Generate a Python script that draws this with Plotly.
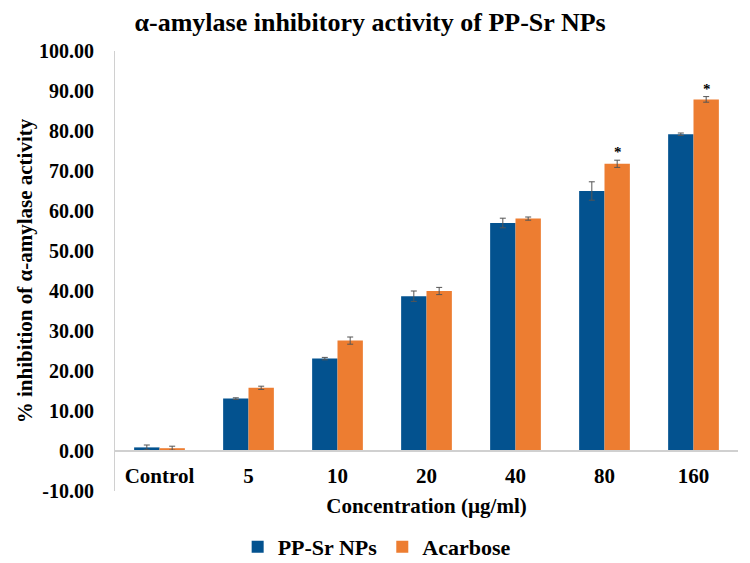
import plotly.graph_objects as go

categories = ["Control", "5", "10", "20", "40", "80", "160"]
pp_sr = [0.9, 13.1, 23.1, 38.7, 57.0, 65.0, 79.2]
pp_sr_err = [0.6, 0.2, 0.3, 1.3, 1.2, 2.3, 0.3]
acarbose = [0.7, 15.8, 27.6, 40.0, 58.1, 71.8, 87.9]
acarbose_err = [0.5, 0.4, 0.9, 0.9, 0.4, 0.9, 0.7]
significant = ["80", "160"]
y_ticks = list(range(-10, 101, 10))

FONT = "Liberation Serif"
BLUE = "#03528F"
ORANGE = "#ED7D31"

fig = go.Figure()

fig.add_trace(go.Bar(
    x=categories, y=pp_sr, name="<b>PP-Sr NPs</b>",
    marker=dict(color=BLUE, line_width=0),
    error_y=dict(type="data", array=pp_sr_err, color="#555555", thickness=1, width=3),
))
fig.add_trace(go.Bar(
    x=categories, y=acarbose, name="<b>Acarbose</b>",
    marker=dict(color=ORANGE, line_width=0),
    error_y=dict(type="data", array=acarbose_err, color="#555555", thickness=1, width=3),
))

# significance markers above the Acarbose bars (x given as category index)
for cat in significant:
    i = categories.index(cat)
    fig.add_annotation(
        x=i, y=acarbose[i] + acarbose_err[i], xref="x", yref="y",
        text="<b>*</b>", showarrow=False, xshift=13, yshift=8,
        font=dict(family=FONT, size=15, color="black"),
    )

# y=0 position inside the plot area, as a paper fraction
y_min, y_max = -10, 100
zero_pos = (0 - y_min) / (y_max - y_min)

fig.update_layout(
    title=dict(
        text="<b>α-amylase inhibitory activity of PP-Sr NPs</b>",
        x=0.488, xanchor="center", y=0.975, yanchor="middle",
        font=dict(family=FONT, size=26, color="black"),
    ),
    width=742, height=555,
    margin=dict(l=107, r=12, t=43, b=72, autoexpand=False),
    plot_bgcolor="white", paper_bgcolor="white",
    barmode="group", bargap=0.43, bargroupgap=0,
    font=dict(family=FONT, color="black"),
    showlegend=True,
    legend=dict(
        orientation="h", x=0.42, xanchor="center",
        y=-0.127, yanchor="middle",
        font=dict(family=FONT, size=22, color="black"),
        itemwidth=30,
    ),
    xaxis=dict(
        type="category", range=[-0.5, len(categories) - 0.5],
        anchor="free", position=zero_pos,
        showline=True, linecolor="#D0D0D0", linewidth=1.5,
        ticks="", tickangle=0, ticklabelstandoff=6,
        tickfont=dict(family=FONT, size=21, color="black"),
        tickprefix="<b>", ticksuffix="</b>",
        title=dict(text="<b>Concentration (µg/ml)</b>",
                   font=dict(family=FONT, size=21, color="black"), standoff=10),
    ),
    yaxis=dict(
        range=[y_min, y_max], tickvals=y_ticks,
        ticktext=[f"<b>{v:.2f}</b>" for v in y_ticks],
        showgrid=False, zeroline=False,
        showline=True, linecolor="#D0D0D0", linewidth=1,
        tickfont=dict(family=FONT, size=20, color="black"),
        ticks="", ticklen=0, ticklabelstandoff=16,
        title=dict(text="<b>% inhibition of α-amylase activity</b>",
                   font=dict(family=FONT, size=21, color="black"), standoff=0),
    ),
)

fig.write_html("out.html")
